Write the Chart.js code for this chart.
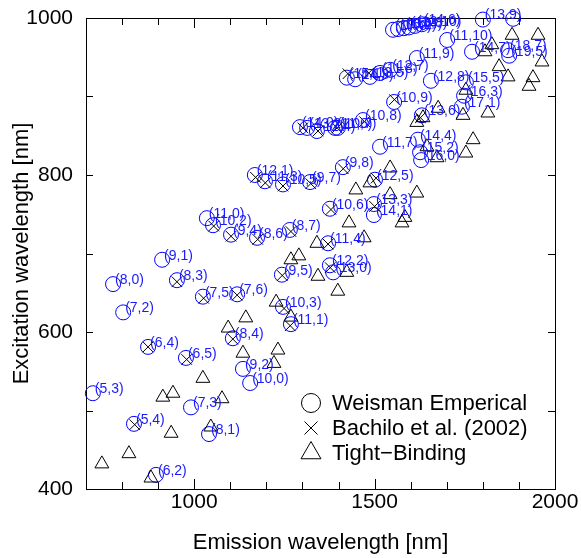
<!DOCTYPE html>
<html>
<head>
<meta charset="utf-8">
<script src="https://cdn.jsdelivr.net/npm/chart.js@4.4.1/dist/chart.umd.min.js"></script>
<style>
    html, body {
        margin: 0px;
        background-color: #ffffff;
    }
    #chartContainer {
        width: 581px;
        height: 558px;
    }
</style>
</head>
<body>
<div id="chartContainer">
    <canvas id="mainChart" width="581" height="558"></canvas>
</div>
<script>
// axis ranges and labelled ticks
const xRange = [700, 2000];
const yRange = [400, 1000];
const xLabelTicks = [1000, 1500, 2000];
const yLabelTicks = [400, 600, 800, 1000];

// Weisman empirical points, (n,m) label + emission / excitation (nm)
const chirality = ['(8,0)','(7,2)','(9,1)','(8,3)','(6,4)','(6,5)','(5,3)','(7,3)','(5,4)','(8,1)',
    '(6,2)','(7,5)','(7,6)','(11,0)','(10,2)','(9,4)','(8,6)','(8,7)','(12,1)','(11,3)',
    '(10,5)','(9,7)','(9,8)','(10,6)','(11,4)','(12,2)','(13,0)','(9,5)','(10,3)','(11,1)',
    '(8,4)','(9,2)','(10,0)','(12,5)','(13,3)','(14,1)','(11,7)','(14,4)','(15,2)','(16,0)',
    '(10,8)','(10,9)','(13,6)','(12,8)','(15,5)','(16,3)','(17,1)','(11,9)','(12,7)','(11,10)',
    '(14,7)','(18,7)','(19,5)','(13,9)','',
    '(17,0)','(16,2)','(15,4)','(13,8)','(12,10)','(14,6)',
    '(15,1)','(14,3)','(13,5)','(11,8)',
    '(14,0)','(13,2)','(12,4)','(11,6)','(10,7)'];
const weismanEm = [775,803,911,952,872,977,719,991,833,1041,
    894,1024,1119,1035,1052,1102,1174,1265,1168,1196,
    1246,1321,1412,1376,1371,1376,1385,1243,1246,1268,
    1107,1135,1155,1501,1498,1498,1515,1620,1626,1629,
    1468,1554,1631,1656,1753,1748,1742,1617,1543,1701,
    1770,1870,1873,1800,1884,
    1551,1565,1581,1595,1612,1631,
    1423,1446,1487,1515,
    1293,1313,1340,1390,1398];
const weismanEx = [661,625,692,666,581,567,522,504,483,470,
    418,645,648,745,736,724,720,730,800,792,
    788,791,810,757,713,685,676,673,632,610,
    592,553,535,794,763,749,836,845,829,819,
    870,893,876,920,918,901,887,949,934,972,
    957,959,952,998,999,
    985,986,987,988,990,992,
    924,922,925,930,
    861,860,856,860,860];

// Bachilo et al. (2002) measured points
const bachiloEm = [872,979,835,952,1026,1119,1054,1102,1176,1268,
    1170,1197,1246,1323,1413,1379,1371,1377,1244,1249,
    1266,1107,1504,1500,1472,1555,1627,1301,1343,1396,
    1426,1484];
const bachiloEx = [581,565,482,664,643,647,735,722,718,728,
    797,790,786,789,808,756,712,682,672,630,
    608,591,796,760,868,896,873,860,856,860,
    929,930];

// tight-binding points
const tbEm = [1024,913,941,1077,936,1046,819,744,880,1094,
    1135,1232,1221,1448,1487,1429,1340,1471,1268,1290,
    1343,1423,1398,1227,1268,1143,1543,1617,1584,1576,
    1881,1953,1825,1806,1964,1845,1870,1939,1928,1753,
    1814,1745,1676,1617,1634,1773,1753,1673,1645,1543];
const tbEx = [541,517,522,515,471,479,445,432,414,605,
    573,577,560,781,790,739,713,720,692,697,
    671,676,652,638,619,618,775,777,746,739,
    978,978,966,957,944,938,925,924,913,908,
    879,876,885,867,873,845,828,822,836,809];

const seriesNames = ['Weisman Emperical', 'Bachilo et al. (2002)', 'Tight\u2212Binding'];

function toPoints(xs, ys) {
    return xs.map((x, i) => ({x: x, y: ys[i]}));
}

Chart.defaults.font.family = "'Liberation Sans', Arial, sans-serif";
Chart.defaults.color = '#000000';

// box around the plot with inward tick marks
const frameTicks = {
    id: 'frameTicks',
    beforeDatasetsDraw(chart) {
        const ctx = chart.ctx;
        const a = chart.chartArea;
        const xs = chart.scales.x, ys = chart.scales.y;
        ctx.save();
        ctx.strokeStyle = '#000000';
        ctx.lineWidth = 1;
        ctx.strokeRect(Math.round(a.left) + 0.5, Math.round(a.top) + 0.5,
            Math.round(a.right - a.left), Math.round(a.bottom - a.top));
        ctx.beginPath();
        for (let v = xRange[0] + 100; v < xRange[1]; v += 100) {
            const px = Math.round(xs.getPixelForValue(v)) + 0.5;
            const len = xLabelTicks.includes(v) ? 10 : 7;
            ctx.moveTo(px, a.bottom); ctx.lineTo(px, a.bottom - len);
            ctx.moveTo(px, a.top); ctx.lineTo(px, a.top + len);
        }
        for (let v = yRange[0] + 100; v < yRange[1]; v += 100) {
            const py = Math.round(ys.getPixelForValue(v)) + 0.5;
            ctx.moveTo(a.left, py); ctx.lineTo(a.left + 7, py);
            ctx.moveTo(a.right, py); ctx.lineTo(a.right - 7, py);
        }
        ctx.stroke();
        ctx.restore();
    }
};

// (n,m) text next to each Weisman circle
const chiralityLabels = {
    id: 'chiralityLabels',
    afterDatasetsDraw(chart) {
        const ctx = chart.ctx;
        const meta = chart.getDatasetMeta(0);
        ctx.save();
        ctx.font = "14px 'Liberation Sans', Arial, sans-serif";
        ctx.fillStyle = 'rgb(25,25,255)';
        ctx.textAlign = 'left';
        ctx.textBaseline = 'middle';
        meta.data.forEach((pt, i) => {
            if (chirality[i]) ctx.fillText(chirality[i], pt.x + 2, pt.y - 4);
        });
        ctx.restore();
    }
};

// legend inside the lower right corner
const innerLegend = {
    id: 'innerLegend',
    afterDraw(chart) {
        const ctx = chart.ctx;
        const x0 = 311, y0 = 403, dy = 25;
        ctx.save();
        ctx.strokeStyle = '#000000';
        ctx.lineWidth = 1;
        // circle
        ctx.beginPath();
        ctx.arc(x0, y0, 9.5, 0, Math.PI * 2);
        ctx.stroke();
        // x
        const r = 6.5;
        ctx.beginPath();
        ctx.moveTo(x0 - r, y0 + dy - r); ctx.lineTo(x0 + r, y0 + dy + r);
        ctx.moveTo(x0 + r, y0 + dy - r); ctx.lineTo(x0 - r, y0 + dy + r);
        ctx.stroke();
        // triangle
        const t = 11.5, cy = y0 + 2 * dy;
        ctx.beginPath();
        ctx.moveTo(x0, cy - t);
        ctx.lineTo(x0 + t * Math.sin(Math.PI * 2 / 3), cy + t / 2);
        ctx.lineTo(x0 - t * Math.sin(Math.PI * 2 / 3), cy + t / 2);
        ctx.closePath();
        ctx.stroke();
        ctx.font = "22px 'Liberation Sans', Arial, sans-serif";
        ctx.fillStyle = '#000000';
        ctx.textAlign = 'left';
        ctx.textBaseline = 'middle';
        seriesNames.forEach((name, i) => ctx.fillText(name, x0 + 21, y0 + i * dy + 1));
        ctx.restore();
    }
};

const ctx = document.getElementById('mainChart').getContext('2d');
const chart = new Chart(ctx, {
    type: 'scatter',
    data: {
        datasets: [{
            label: seriesNames[0],
            data: toPoints(weismanEm, weismanEx),
            pointStyle: 'circle',
            pointRadius: 7.5,
            pointBorderWidth: 1,
            borderColor: 'rgb(0,0,255)',
            backgroundColor: 'rgba(0,0,0,0)',
            clip: false,
            order: 3
        }, {
            label: seriesNames[1],
            data: toPoints(bachiloEm, bachiloEx),
            pointStyle: 'crossRot',
            pointRadius: 7.5,
            pointBorderWidth: 1,
            borderColor: '#000000',
            backgroundColor: 'rgba(0,0,0,0)',
            clip: false,
            order: 2
        }, {
            label: seriesNames[2],
            data: toPoints(tbEm, tbEx),
            pointStyle: 'triangle',
            pointRadius: 8,
            pointBorderWidth: 1,
            borderColor: '#000000',
            backgroundColor: 'rgba(0,0,0,0)',
            clip: false,
            order: 1
        }]
    },
    options: {
        responsive: false,
        animation: false,
        devicePixelRatio: 1,
        layout: {padding: {top: 18, right: 26, left: 0, bottom: 0}},
        plugins: {
            legend: {display: false},
            tooltip: {enabled: false}
        },
        scales: {
            x: {
                type: 'linear',
                min: xRange[0],
                max: xRange[1],
                grid: {display: false},
                border: {display: false},
                afterFit: (s) => { s.height = 69; },
                ticks: {
                    stepSize: 100,
                    autoSkip: false,
                    maxRotation: 0,
                    padding: -7,
                    font: {size: 21},
                    callback: (v) => xLabelTicks.includes(v) ? String(v) : ''
                },
                title: {
                    display: true,
                    text: 'Emission wavelength [nm]',
                    font: {size: 22},
                    padding: {top: 0, bottom: 2}
                }
            },
            y: {
                type: 'linear',
                min: yRange[0],
                max: yRange[1],
                grid: {display: false},
                border: {display: false},
                afterFit: (s) => { s.width = 86; },
                ticks: {
                    stepSize: 100,
                    autoSkip: false,
                    padding: 5,
                    font: {size: 21},
                    callback: (v) => yLabelTicks.includes(v) ? String(v) : ''
                },
                title: {
                    display: true,
                    text: 'Excitation wavelength [nm]',
                    font: {size: 22},
                    padding: {top: 9, bottom: 0}
                }
            }
        }
    },
    plugins: [frameTicks, chiralityLabels, innerLegend]
});
</script>
</body>
</html>
